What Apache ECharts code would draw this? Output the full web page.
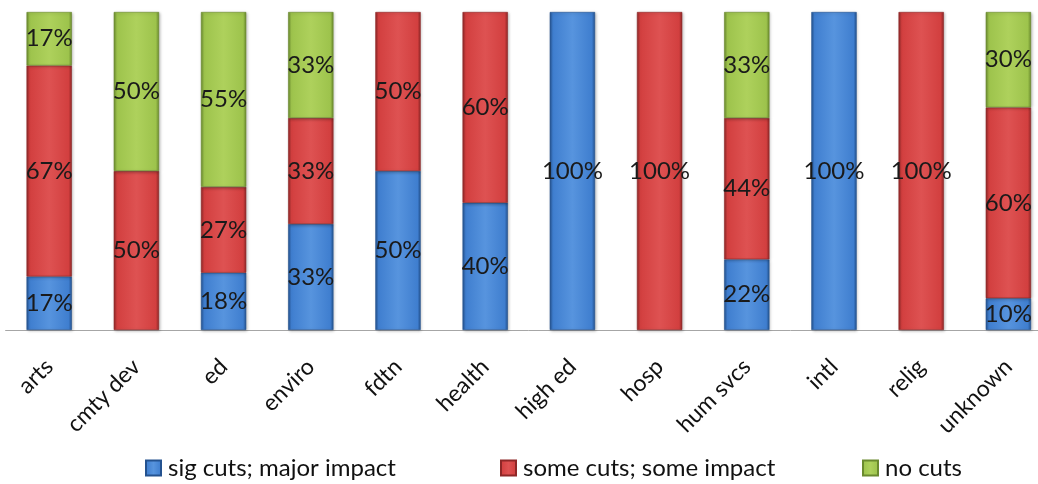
<!DOCTYPE html>
<html>
<head>
<meta charset="utf-8">
<script src="https://cdn.jsdelivr.net/npm/echarts@6/dist/echarts.min.js"></script>
<style>
html,body{margin:0;padding:0;background:#fff;overflow:hidden;width:1038px;height:484px;}
#chart{width:1052px;height:484px;}
</style>
</head>
<body>
<div id="chart"></div>
<script>
const categories = ['arts','cmty dev','ed','enviro','fdtn','health','high ed','hosp','hum svcs','intl','relig','unknown'];
const seriesNames = ['sig cuts; major impact','some cuts; some impact','no cuts'];
const sigCuts  = [17, 0, 18, 33, 50, 40, 100, 0, 22, 100, 0, 10];
const someCuts = [67, 50, 27, 33, 50, 60, 0, 100, 44, 0, 100, 60];
const noCuts   = [17, 50, 55, 33, 0, 0, 0, 0, 33, 0, 0, 30];

const raw = [sigCuts, someCuts, noCuts];
const totals = categories.map((c, i) => raw.reduce((s, arr) => s + arr[i], 0));

const palettes = [
  {edge:'#24528f', base:'#3f7ecf', light:'#5794de'},
  {edge:'#8e2727', base:'#d23f3f', light:'#de5252'},
  {edge:'#6a8a2e', base:'#9dc34c', light:'#aed15c'}
];

function grad(p){
  return new echarts.graphic.LinearGradient(0,0,1,0,[
    {offset:0, color:p.edge},
    {offset:0.07, color:p.base},
    {offset:0.5, color:p.light},
    {offset:0.93, color:p.base},
    {offset:1, color:p.edge}
  ]);
}

const FONT = 'Lato, "Open Sans", sans-serif';

const series = raw.map((arr, si) => ({
  name: seriesNames[si],
  type: 'bar',
  stack: 'total',
  barWidth: '52%',
  data: arr.map((v, i) => v > 0 ? {value: v / totals[i] * 100, raw: v} : {value: null, raw: 0}),
  itemStyle: {
    color: grad(palettes[si]),
    borderColor: palettes[si].edge,
    borderWidth: 0.6,
    shadowColor: 'rgba(0,0,0,0.25)',
    shadowBlur: 3,
    shadowOffsetX: 1,
    shadowOffsetY: 1
  },
  label: {
    show: true,
    position: 'inside',
    color: '#1a1a1a',
    fontFamily: FONT,
    fontSize: 24,
    formatter: p => p.data.raw > 0 ? p.data.raw + '%' : ''
  },
  emphasis: {disabled: true}
}));

const legendBase = {
  bottom: 4,
  padding: 0,
  itemWidth: 15,
  itemHeight: 15,
  icon: 'rect',
  textStyle: {fontFamily: FONT, fontSize: 24, color: '#111', padding: [0,0,0,2]}
};
const legendLefts = [145, 500, 862];

const chart = echarts.init(document.getElementById('chart'), null, {renderer:'canvas'});
chart.setOption({
  animation: false,
  color: palettes.map(p => p.base),
  grid: {left: 5.6, right: 0, top: 12, height: 318, containLabel: false},
  xAxis: {
    type: 'category',
    data: categories,
    axisLine: {show: true, lineStyle: {color: '#a6a6a6', width: 1}},
    axisTick: {show: false},
    axisLabel: {rotate: 45, margin: 33, color: '#111', fontFamily: FONT, fontSize: 23, interval: 0}
  },
  yAxis: {
    type: 'value', min: 0, max: 100, show: false,
    splitLine: {show: false}
  },
  legend: seriesNames.map((n, i) => Object.assign({}, legendBase, {left: legendLefts[i], data: [n]})),
  series: series
});
</script>
</body>
</html>
